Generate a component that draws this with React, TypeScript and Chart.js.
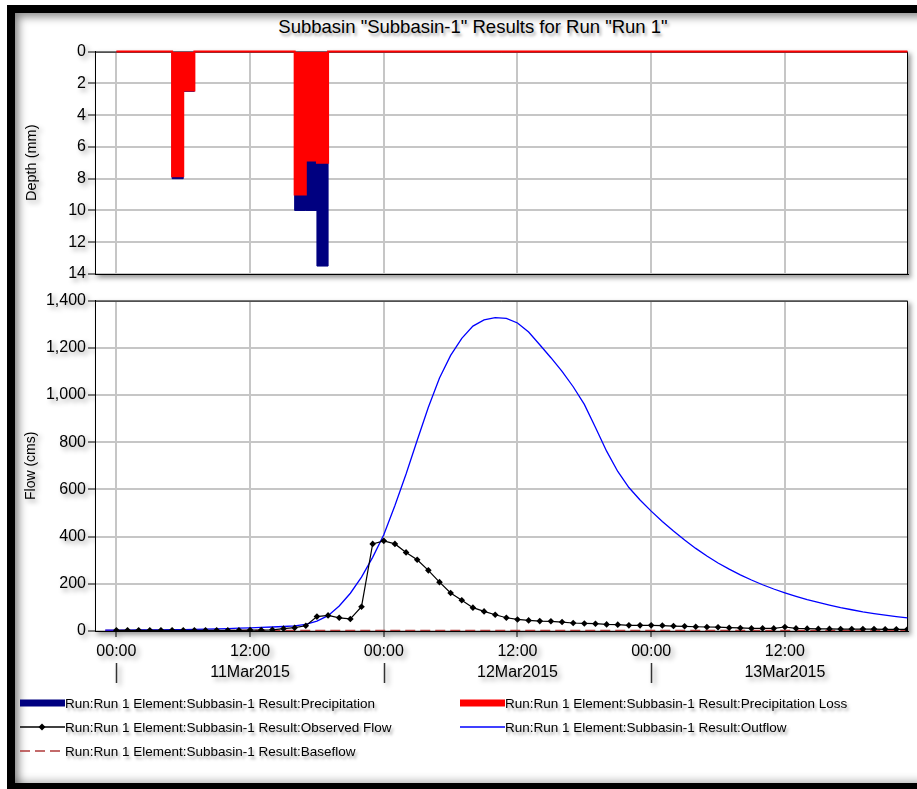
import React, { useEffect, useRef } from "react";
import { Chart, registerables } from "chart.js";

Chart.register(...registerables);

const FONT = '"Liberation Sans", Arial, Helvetica, sans-serif';
Chart.defaults.font.family = FONT;
Chart.defaults.color = "#000";

const titleText = 'Subbasin "Subbasin-1" Results for Run "Run 1"';

// hours since 11Mar2015 00:00
const precipHours = [0,1,2,3,4,5,6,7,8,9,10,11,12,13,14,15,16,17,18,19,20,21,22,23,24,25,26,27,28,29,30,31,32,33,34,35,36,37,38,39,40,41,42,43,44,45,46,47,48,49,50,51,52,53,54,55,56,57,58,59,60,61,62,63,64,65,66,67,68,69,70,71];

// depth (mm), value at end of each hourly interval
const precipitation = [
  0,0,0,0,0,0,8.0,2.5,0,0,
  0,0,0,0,0,0,0,10.0,10.0,13.5,
  0,0,0,0,0,0,0,0,0,0,
  0,0,0,0,0,0,0,0,0,0,
  0,0,0,0,0,0,0,0,0,0,
  0,0,0,0,0,0,0,0,0,0,
  0,0,0,0,0,0,0,0,0,0,
  0,0,
];
const precipitationLoss = [
  0,0,0,0,0,0,7.85,2.45,0,0,
  0,0,0,0,0,0,0,9.0,6.85,7.0,
  0,0,0,0,0,0,0,0,0,0,
  0,0,0,0,0,0,0,0,0,0,
  0,0,0,0,0,0,0,0,0,0,
  0,0,0,0,0,0,0,0,0,0,
  0,0,0,0,0,0,0,0,0,0,
  0,0,
];

const observedHours = [0,1,2,3,4,5,6,7,8,9,10,11,12,13,14,15,16,17,18,19,20,21,22,23,24,25,26,27,28,29,30,31,32,33,34,35,36,37,38,39,40,41,42,43,44,45,46,47,48,49,50,51,52,53,54,55,56,57,58,59,60,61,62,63,64,65,66,67,68,69,70,71];
const observedFlow = [
  3,3,3,3,3,3,3,3,3,3,
  3,3,4,4,5,10,14,22,61,66,
  56,51,103,369,382,369,333,302,257,207,
  161,130,99,83,69,56,49,45,42,41,
  38,34,32,31,28,27,24,24,24,23,
  21,20,18,17,16,14,13,11,11,11,
  17,11,10,9,9,8,8,8,8,7,
  7,7,
];

const simHours = [-1,0,1,2,3,4,5,6,7,8,9,10,11,12,13,14,15,16,17,18,19,20,21,22,23,24,25,26,27,28,29,30,31,32,33,34,35,36,37,38,39,40,41,42,43,44,45,46,47,48,49,50,51,52,53,54,55,56,57,58,59,60,61,62,63,64,65,66,67,68,69,70,71];
const outflow = [
  4,
  4,4,5,5,5,6,6,7,8,9,
  10,12,13,15,17,19,22,28,42,65,
  106,160,228,312,408,532,665,808,948,1072,
  1168,1240,1292,1318,1328,1325,1305,1267,1213,1158,
  1100,1035,960,862,762,676,608,555,508,464,
  424,386,350,318,288,262,238,216,196,178,
  162,147,133,121,110,99,90,81,74,67,
  61,56,
];
const baseflow = [
  2,
  2,2,2,2,2,2,2,2,2,2,
  2,2,2,2,2,2,2,2,2,2,
  2,2,2,2,2,2,2,2,2,2,
  2,2,2,2,2,2,2,2,2,2,
  2,2,2,2,2,2,2,2,2,2,
  2,2,2,2,2,2,2,2,2,2,
  2,2,2,2,2,2,2,2,2,2,
  2,2,
];

const timeTickHours = [0, 12, 24, 36, 48, 60];
const timeTickLabels = ["00:00", "12:00", "00:00", "12:00", "00:00", "12:00"];
const dayStartHours = [0, 24, 48];
const dayLabelHours = [12, 36, 60];
const dayLabels = ["11Mar2015", "12Mar2015", "13Mar2015"];

const legendLabels = [
  "Run:Run 1 Element:Subbasin-1 Result:Precipitation",
  "Run:Run 1 Element:Subbasin-1 Result:Precipitation Loss",
  "Run:Run 1 Element:Subbasin-1 Result:Observed Flow",
  "Run:Run 1 Element:Subbasin-1 Result:Outflow",
  "Run:Run 1 Element:Subbasin-1 Result:Baseflow",
];

const X_MIN = -1.92;
const X_MAX = 71.05;
const GRID = "#c6c6c6";
const NAVY = "#000080";
const RED = "#ff0000";
const BLUE = "#0000ff";
const BASE = "#b03a3a";

const toXY = (xs: number[], ys: number[]) => xs.map((x, i) => ({ x, y: ys[i] }));

const plotFrame = {
  id: "plotFrame",
  beforeDraw(chart: any) {
    const { ctx, chartArea: a } = chart;
    ctx.save();
    ctx.fillStyle = "#fff";
    ctx.fillRect(a.left, a.top, a.right - a.left, a.bottom - a.top);
    ctx.restore();
  },
  beforeDatasetsDraw(chart: any) {
    const { ctx, chartArea: a } = chart;
    ctx.save();
    ctx.strokeStyle = "#000";
    ctx.lineWidth = 1;
    ctx.beginPath();
    ctx.moveTo(a.left, a.top + 0.5);
    ctx.lineTo(a.right - 0.5, a.top + 0.5);
    ctx.lineTo(a.right - 0.5, a.bottom);
    ctx.stroke();
    ctx.restore();
  },
};

const dayRow = {
  id: "dayRow",
  afterDraw(chart: any) {
    const { ctx, chartArea } = chart;
    const xs = chart.scales.x;
    const base = chartArea.bottom;
    ctx.save();
    ctx.strokeStyle = "#333";
    ctx.lineWidth = 1.5;
    dayStartHours.forEach((h) => {
      const px = Math.round(xs.getPixelForValue(h)) + 0.5;
      ctx.beginPath();
      ctx.moveTo(px, base + 32);
      ctx.lineTo(px, base + 52);
      ctx.stroke();
    });
    ctx.fillStyle = "#000";
    ctx.font = `16px ${FONT}`;
    ctx.textAlign = "center";
    ctx.textBaseline = "middle";
    dayLabels.forEach((lab, i) => {
      ctx.fillText(lab, xs.getPixelForValue(dayLabelHours[i]), base + 42);
    });
    ctx.restore();
  },
};

const sharedX = (showLabels: boolean, height: number) => ({
  type: "linear" as const,
  min: X_MIN,
  max: X_MAX,
  afterBuildTicks: (s: any) => {
    s.ticks = timeTickHours.map((v) => ({ value: v }));
  },
  ticks: {
    display: showLabels,
    autoSkip: false,
    maxRotation: 0,
    minRotation: 0,
    padding: 5,
    font: { size: 16 },
    color: "#000",
    callback: (_v: any, i: number) => timeTickLabels[i],
  },
  grid: {
    color: GRID,
    lineWidth: 2,
    drawTicks: showLabels,
    tickColor: "#000",
    tickLength: 6,
    tickWidth: 1,
  },
  border: { color: "#000", width: 1 },
  afterFit: (s: any) => {
    s.height = height;
  },
});

export default function App() {
  const upperRef = useRef<HTMLCanvasElement | null>(null);
  const lowerRef = useRef<HTMLCanvasElement | null>(null);

  useEffect(() => {
    const upper = new Chart(upperRef.current as HTMLCanvasElement, {
      type: "line",
      data: {
        datasets: [
          {
            label: legendLabels[1],
            data: toXY(precipHours, precipitationLoss),
            stepped: "after",
            borderColor: RED,
            backgroundColor: RED,
            borderWidth: 2,
            fill: "origin",
            pointRadius: 0,
            clip: 3,
          },
          {
            label: legendLabels[0],
            data: toXY(precipHours, precipitation),
            stepped: "after",
            borderColor: NAVY,
            backgroundColor: NAVY,
            borderWidth: 1,
            fill: "origin",
            pointRadius: 0,
          },
        ],
      },
      options: {
        animation: false,
        responsive: false,
        layout: { padding: { top: 10, right: 9, left: 0, bottom: 0 } },
        plugins: { legend: { display: false }, tooltip: { enabled: false } },
        scales: {
          x: sharedX(false, 12) as any,
          y: {
            reverse: true,
            min: 0,
            max: 14,
            ticks: { stepSize: 2, padding: 2, font: { size: 16 }, color: "#000" },
            grid: { color: GRID, lineWidth: 2, tickColor: "#000", tickLength: 7, tickWidth: 1 },
            border: { color: "#000" },
            title: { display: true, text: "Depth (mm)", font: { size: 14.5 }, color: "#000", padding: 0 },
            afterFit: (s: any) => {
              s.width = 72;
            },
          },
        },
      },
      plugins: [plotFrame],
    });

    const lower = new Chart(lowerRef.current as HTMLCanvasElement, {
      type: "line",
      data: {
        datasets: [
          {
            label: legendLabels[2],
            data: toXY(observedHours, observedFlow),
            borderColor: "#000",
            backgroundColor: "#000",
            borderWidth: 1.2,
            pointStyle: "rectRot",
            pointRadius: 3.3,
            pointBorderWidth: 0,
            pointBackgroundColor: "#000",
            fill: false,
          },
          {
            label: legendLabels[3],
            data: toXY(simHours, outflow),
            borderColor: BLUE,
            borderWidth: 1.3,
            pointRadius: 0,
            tension: 0,
            fill: false,
          },
          {
            label: legendLabels[4],
            data: toXY(simHours, baseflow),
            borderColor: BASE,
            borderWidth: 1.5,
            borderDash: [10, 5],
            pointRadius: 0,
            fill: false,
          },
        ],
      },
      options: {
        animation: false,
        responsive: false,
        layout: { padding: { top: 10, right: 9, left: 0, bottom: 0 } },
        plugins: { legend: { display: false }, tooltip: { enabled: false } },
        scales: {
          x: sharedX(true, 58) as any,
          y: {
            min: 0,
            max: 1400,
            ticks: {
              stepSize: 200,
              padding: 2,
              font: { size: 16 },
              color: "#000",
              callback: (v: any) => Number(v).toLocaleString("en-US"),
            },
            grid: { color: GRID, lineWidth: 2, tickColor: "#000", tickLength: 7, tickWidth: 1 },
            border: { color: "#000" },
            title: { display: true, text: "Flow (cms)", font: { size: 14 }, color: "#000", padding: 0 },
            afterFit: (s: any) => {
              s.width = 72;
            },
          },
        },
      },
      plugins: [plotFrame, dayRow],
    });

    return () => {
      upper.destroy();
      lower.destroy();
    };
  }, []);

  const textShadow = "2px 3px 3px rgba(0,0,0,0.35)";
  const canvasShadow = "drop-shadow(3px 3px 2.5px rgba(0,0,0,0.4))";

  const legendItem = (left: number, yc: number, label: string, sample: React.ReactNode) => (
    <div
      style={{
        position: "absolute",
        left,
        top: yc - 9,
        height: 18,
        display: "flex",
        alignItems: "center",
        whiteSpace: "nowrap",
      }}
    >
      <svg width={46} height={12} style={{ display: "block", flex: "none" }}>
        {sample}
      </svg>
      <span style={{ marginLeft: 0, textShadow }}>{label}</span>
    </div>
  );

  return (
    <div
      style={{
        position: "absolute",
        left: 0,
        top: 0,
        width: 917,
        height: 789,
        overflow: "hidden",
        background: "#fff",
        fontFamily: FONT,
      }}
    >
      <div
        style={{
          position: "absolute",
          left: 7,
          top: 5,
          width: 1000,
          height: 770,
          border: "8px solid #000",
          background: "#fff",
          boxShadow:
            "inset 7px 7px 9px -3px rgba(0,0,0,0.45), inset 0 -6px 8px -4px rgba(0,0,0,0.3)",
        }}
      />
      <div
        style={{
          position: "absolute",
          left: 0,
          top: 16,
          width: 946,
          textAlign: "center",
          fontSize: "18.5px",
          lineHeight: "22px",
          color: "#000",
          whiteSpace: "nowrap",
          textShadow,
        }}
      >
        {titleText}
      </div>
      <canvas
        ref={upperRef}
        width={894}
        height={246}
        style={{ position: "absolute", left: 23, top: 40, width: 894, height: 246, filter: canvasShadow }}
      />
      <canvas
        ref={lowerRef}
        width={894}
        height={400}
        style={{ position: "absolute", left: 23, top: 289, width: 894, height: 400, filter: canvasShadow }}
      />
      <div style={{ position: "absolute", left: 0, top: 0, fontSize: "13.5px", color: "#000" }}>
        {legendItem(19, 703, legendLabels[0], <rect x={1} y={2.5} width={45} height={7} fill={NAVY} />)}
        {legendItem(459, 703, legendLabels[1], <rect x={1} y={2.5} width={45} height={7} fill={RED} />)}
        {legendItem(
          19,
          727,
          legendLabels[2],
          <g>
            <line x1={1} y1={6} x2={46} y2={6} stroke="#000" strokeWidth={1.3} />
            <polygon points="23,2.5 26.5,6 23,9.5 19.5,6" fill="#000" />
          </g>
        )}
        {legendItem(459, 727, legendLabels[3], <line x1={1} y1={6} x2={46} y2={6} stroke={BLUE} strokeWidth={1.3} />)}
        {legendItem(
          19,
          751,
          legendLabels[4],
          <line x1={1} y1={6} x2={46} y2={6} stroke={BASE} strokeWidth={1.6} strokeDasharray="10 5" />
        )}
      </div>
    </div>
  );
}
